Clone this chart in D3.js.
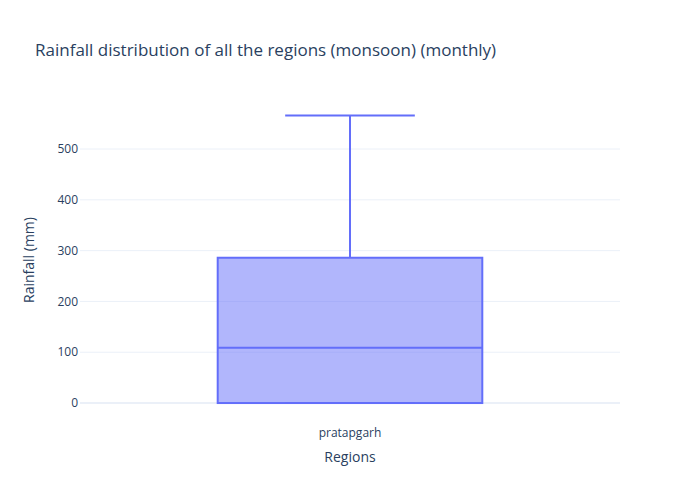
<!DOCTYPE html>
<html>
<head>
<meta charset="utf-8">
<script src="https://cdn.jsdelivr.net/npm/d3@7"></script>
<style>
  body { margin: 0; background: #fff; }
  text { font-family: "Open Sans", sans-serif; fill: #2a3f5f; }
</style>
</head>
<body>
<svg id="chart" width="700" height="500"></svg>
<script>
// data
const regions = ["pratapgarh"];
const lowerFence = [0];
const q1 = [0];
const median = [109];
const q3 = [286];
const upperFence = [566];
const yTicks = [0, 100, 200, 300, 400, 500];

const width = 700, height = 500;
const margin = { top: 100, right: 80, bottom: 80, left: 80 };

const svg = d3.select("#chart");

const x = d3.scaleBand()
  .domain(regions)
  .range([margin.left, width - margin.right]);

const y = d3.scaleLinear()
  .domain([-33.4, 596.5])
  .range([height - margin.bottom, margin.top]);

// grid lines
svg.append("g")
  .selectAll("line")
  .data(yTicks.filter(d => d !== 0))
  .join("line")
  .attr("x1", margin.left)
  .attr("x2", width - margin.right)
  .attr("y1", d => y(d))
  .attr("y2", d => y(d))
  .attr("stroke", "#ebf0f8")
  .attr("stroke-width", 1);

// zero line
svg.append("line")
  .attr("x1", margin.left)
  .attr("x2", width - margin.right)
  .attr("y1", y(0))
  .attr("y2", y(0))
  .attr("stroke", "#ebf0f8")
  .attr("stroke-width", 2);

// y tick labels
svg.append("g")
  .selectAll("text")
  .data(yTicks)
  .join("text")
  .attr("x", margin.left - 2)
  .attr("y", d => y(d))
  .attr("dy", "0.35em")
  .attr("text-anchor", "end")
  .style("font-size", "12px")
  .text(d => d);

// x tick labels
svg.append("g")
  .selectAll("text")
  .data(regions)
  .join("text")
  .attr("x", d => x(d) + x.bandwidth() / 2)
  .attr("y", height - margin.bottom + 13)
  .attr("dy", "0.35em")
  .attr("text-anchor", "middle")
  .style("font-size", "12px")
  .text(d => d);

// box plot
const color = "#636efa";
const boxW = x.bandwidth() * 0.49;
const capW = boxW * 0.49;

regions.forEach((r, i) => {
  const cx = x(r) + x.bandwidth() / 2;
  const g = svg.append("g");

  // whiskers
  g.append("line")
    .attr("x1", cx).attr("x2", cx)
    .attr("y1", y(q3[i])).attr("y2", y(upperFence[i]))
    .attr("stroke", color).attr("stroke-width", 2);
  g.append("line")
    .attr("x1", cx).attr("x2", cx)
    .attr("y1", y(q1[i])).attr("y2", y(lowerFence[i]))
    .attr("stroke", color).attr("stroke-width", 2);
  g.append("line")
    .attr("x1", cx - capW / 2).attr("x2", cx + capW / 2)
    .attr("y1", y(upperFence[i])).attr("y2", y(upperFence[i]))
    .attr("stroke", color).attr("stroke-width", 2);
  g.append("line")
    .attr("x1", cx - capW / 2).attr("x2", cx + capW / 2)
    .attr("y1", y(lowerFence[i])).attr("y2", y(lowerFence[i]))
    .attr("stroke", color).attr("stroke-width", 2);

  // box
  g.append("rect")
    .attr("x", cx - boxW / 2)
    .attr("y", y(q3[i]))
    .attr("width", boxW)
    .attr("height", y(q1[i]) - y(q3[i]))
    .attr("fill", "rgba(99,110,250,0.5)")
    .attr("stroke", color)
    .attr("stroke-width", 2);

  // median
  g.append("line")
    .attr("x1", cx - boxW / 2).attr("x2", cx + boxW / 2)
    .attr("y1", y(median[i])).attr("y2", y(median[i]))
    .attr("stroke", color).attr("stroke-width", 2);
});

// title and axis labels
svg.append("text")
  .attr("x", 35)
  .attr("y", 50)
  .attr("dy", "0.35em")
  .style("font-size", "17px")
  .text("Rainfall distribution of all the regions (monsoon) (monthly)");

svg.append("text")
  .attr("x", width / 2)
  .attr("y", 457)
  .attr("dy", "0.35em")
  .attr("text-anchor", "middle")
  .style("font-size", "14px")
  .text("Regions");

svg.append("text")
  .attr("transform", `translate(29,${(margin.top + height - margin.bottom) / 2}) rotate(-90)`)
  .attr("dy", "0.35em")
  .attr("text-anchor", "middle")
  .style("font-size", "14px")
  .text("Rainfall (mm)");
</script>
</body>
</html>
